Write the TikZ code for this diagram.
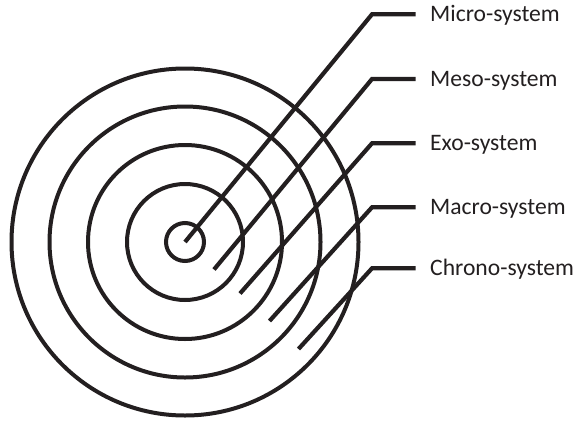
\documentclass[tikz,border=0pt]{standalone}
\usepackage{fontspec}
\setmainfont{Carlito}
\definecolor{ink}{RGB}{35,31,32}
\begin{document}
\begin{tikzpicture}[x=1pt,y=-1pt,
  ring/.style={line width=4pt,draw=ink},
  leader/.style={line width=4.2pt,draw=ink,line join=miter},
  lbl/.style={anchor=base west,inner sep=0pt,font=\fontsize{23.6}{26}\selectfont,text=ink}]
\useasboundingbox (0,0) rectangle (577,420);
\coordinate (c) at (185,242);
\foreach \r in {19,58,97,135.5,173.5}{
  \draw[ring] (c) circle (\r);
}
% start points
\coordinate (s1) at (185,242);
\coordinate (s2) at (214,269.5);
\coordinate (s3) at (240,293.5);
\coordinate (s4) at (269.5,321);
\coordinate (s5) at (298.5,349);
% elbows
\coordinate (e1) at (372,14.3);
\coordinate (e2) at (372,79);
\coordinate (e3) at (372,143.3);
\coordinate (e4) at (372,207.3);
\coordinate (e5) at (372,268.3);
% ends
\coordinate (f1) at (415.5,14.3);
\coordinate (f2) at (415.5,79);
\coordinate (f3) at (415.5,143.3);
\coordinate (f4) at (415.5,207.3);
\coordinate (f5) at (415.5,268.3);
\foreach \i in {1,...,5}{
  \draw[leader] (s\i) -- (e\i) -- (f\i);
}
\node[lbl] (l1) at (430,21.8) {Micro-system};
\node[lbl] (l2) at (430,86.5) {Meso-system};
\node[lbl] (l3) at (430,150.8) {Exo-system};
\node[lbl] (l4) at (430,214.8) {Macro-system};
\node[lbl] (l5) at (430,275.8) {Chrono-system};
\end{tikzpicture}
\end{document}
